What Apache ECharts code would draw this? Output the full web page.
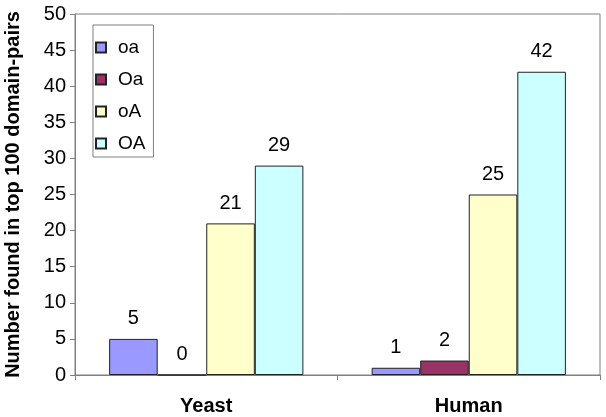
<!DOCTYPE html>
<html><head><meta charset="utf-8">
<script src="https://cdn.jsdelivr.net/npm/echarts@6/dist/echarts.min.js"></script>
<style>html,body{margin:0;padding:0;background:#fff}#c{width:606px;height:417px}</style>
</head><body><div id="c"></div>
<script>
var categories = ["Yeast", "Human"];
var seriesNames = ["oa", "Oa", "oA", "OA"];
var oaValues = [5, 1];
var OaValues = [0, 2];
var oAValues = [21, 25];
var OAValues = [29, 42];
var yTicks = [0, 5, 10, 15, 20, 25, 30, 35, 40, 45, 50];
var colors = ["#9999FF", "#993366", "#FFFFCC", "#CCFFFF"];
var values = [oaValues, OaValues, oAValues, OAValues];

var font = "Arial, 'Liberation Sans', sans-serif";
var chart = echarts.init(document.getElementById('c'), null, {renderer: 'canvas'});
chart.setOption({
  animation: false,
  backgroundColor: '#fff',
  grid: {left: 75, right: 6, top: 14, bottom: 42, show: true, borderColor: '#808080', borderWidth: 1,
         containLabel: false, outerBoundsMode: 'none'},
  legend: {
    orient: 'vertical', left: 93, top: 25,
    padding: [13, 8, 4, 2],
    itemWidth: 10, itemHeight: 10, itemGap: 13,
    borderColor: '#808080', borderWidth: 1, backgroundColor: '#fff',
    textStyle: {fontFamily: font, fontSize: 19, color: '#000', padding: [0, 0, 0, 7], lineHeight: 19},
    data: seriesNames.map(function (n) { return {name: n, icon: 'rect'}; })
  },
  xAxis: {
    type: 'category', data: categories,
    axisLine: {lineStyle: {color: '#808080'}},
    axisTick: {show: true, length: 5, lineStyle: {color: '#808080'}},
    axisLabel: {fontFamily: font, fontSize: 20, fontWeight: 'bold', color: '#000', margin: 21}
  },
  yAxis: {
    type: 'value', min: yTicks[0], max: yTicks[yTicks.length - 1], interval: 5,
    name: 'Number found in top 100 domain-pairs', nameLocation: 'middle', nameGap: 52,
    nameTextStyle: {fontFamily: font, fontSize: 20, fontWeight: 'bold', color: '#000'},
    axisLine: {show: true, lineStyle: {color: '#808080'}},
    axisTick: {show: true, length: 5, lineStyle: {color: '#808080'}},
    splitLine: {show: false},
    axisLabel: {fontFamily: font, fontSize: 20, color: '#000', margin: 9}
  },
  series: seriesNames.map(function (n, i) {
    return {
      name: n, type: 'bar', data: values[i],
      barGap: '0%', barCategoryGap: '26%',
      itemStyle: {color: colors[i], borderColor: '#222', borderWidth: 1},
      label: {show: true, position: 'top', distance: 10, fontFamily: font, fontSize: 20, color: '#000'}
    };
  })
});
</script></body></html>
